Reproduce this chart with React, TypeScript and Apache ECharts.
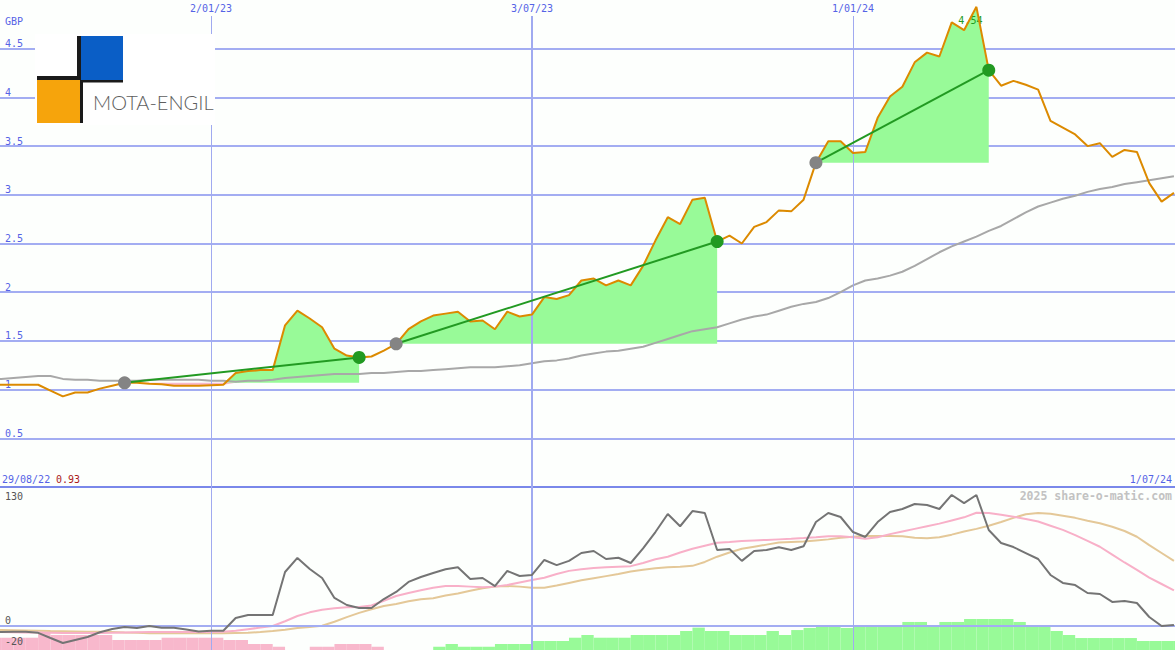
import React, { useEffect, useRef } from "react";
import * as echarts from "echarts";

// ---------- data ----------
const startDate = "2022-08-29"; // first weekly observation
const priceGBP = [
  1.05, 1.05, 1.05, 1.05, 1.05, 0.99, 0.93, 0.97, 0.97, 1.01,
  1.04, 1.07, 1.07, 1.06, 1.055, 1.04, 1.04, 1.04, 1.045, 1.05,
  1.17, 1.19, 1.2, 1.2, 1.66, 1.81, 1.73, 1.64, 1.42, 1.35,
  1.33, 1.34, 1.4, 1.47, 1.62, 1.7, 1.76, 1.78, 1.8, 1.7,
  1.71, 1.62, 1.8, 1.75, 1.77, 1.95, 1.93, 1.97, 2.12, 2.14,
  2.07, 2.12, 2.07, 2.27, 2.53, 2.77, 2.7, 2.95, 2.97, 2.52,
  2.58, 2.5, 2.67, 2.72, 2.84, 2.83, 2.95, 3.33, 3.55, 3.55,
  3.43, 3.44, 3.79, 4.01, 4.11, 4.36, 4.46, 4.42, 4.77, 4.69,
  4.93, 4.28, 4.12, 4.17, 4.13, 4.08, 3.76, 3.69, 3.62, 3.5,
  3.53, 3.39, 3.46, 3.44, 3.12, 2.93, 3.02,
];
const movingAverage = [
  1.11, 1.11, 1.12, 1.13, 1.14, 1.14, 1.11, 1.1, 1.1, 1.09,
  1.09, 1.09, 1.09, 1.1, 1.1, 1.1, 1.1, 1.1, 1.09, 1.09,
  1.08, 1.09, 1.09, 1.1, 1.12, 1.13, 1.14, 1.15, 1.16, 1.16,
  1.16, 1.17, 1.17, 1.18, 1.19, 1.19, 1.2, 1.21, 1.22, 1.23,
  1.23, 1.23, 1.24, 1.25, 1.27, 1.29, 1.3, 1.32, 1.35, 1.37,
  1.39, 1.4, 1.42, 1.44, 1.48, 1.52, 1.56, 1.6, 1.62, 1.64,
  1.68, 1.72, 1.75, 1.77, 1.81, 1.85, 1.88, 1.9, 1.94, 2.0,
  2.07, 2.12, 2.14, 2.17, 2.21, 2.27, 2.34, 2.41, 2.47, 2.52,
  2.57, 2.63, 2.68, 2.75, 2.82, 2.88, 2.92, 2.96, 2.99, 3.03,
  3.06, 3.08, 3.11, 3.13, 3.15, 3.17, 3.19,
];
const oscillator = [
  -5.7, -5.7, -5.4, -5.4, -6.5, -11.4, -16.2, -13.3, -10.5, -5.9,
  -2.9, -1, -1.9, 0, -1.6, -1.6, -3.3, -5.2, -4.5, -4.5,
  7.6, 10.5, 10.5, 10.5, 51.4, 64.8, 54.3, 45.7, 26.7, 20,
  17.1, 17.1, 25.7, 32.4, 42, 46.7, 50.5, 54, 56, 44.8,
  45.7, 38, 52.4, 47.6, 48.6, 62.9, 58, 62, 69.5, 71.4,
  63.8, 65, 60, 74, 89.5, 106.7, 95, 109.5, 107.6, 72.4,
  73.3, 62, 71.4, 72.4, 75, 72.4, 76, 99, 107.6, 103.8,
  89.5, 84.8, 99, 108.6, 111.4, 116.2, 115.2, 111.4, 124.8, 117,
  124.8, 91.4, 79, 75.2, 69.5, 63.8, 48.6, 41, 39, 31.4,
  30.5, 22.9, 23.8, 21.9, 8.6, 0, 1,
];
const oscFastAvg = [
  -5.7, -5.7, -5.9, -6.1, -6.3, -6.5, -6.7, -6.7, -6.7, -6.7,
  -6.5, -6.2, -6, -5.8, -5.7, -5.7, -5.7, -5.7, -5.7, -5.4,
  -4.5, -3, -1.5, 0, 4.5, 9.5, 13, 15.5, 17, 17.8,
  18.2, 19.5, 24, 28.6, 31.5, 34, 36.5, 38, 38, 37.5,
  37, 37.5, 39, 41.5, 43.8, 46, 49.5, 52.5, 54, 55.3,
  56, 56.5, 57, 60, 63.5, 66, 70, 73.5, 76.5, 79.3,
  80, 81, 81.5, 82, 82.5, 83, 83.7, 84.5, 85.5, 85.5,
  84.5, 83, 84.5, 87.5, 90, 92.5, 95, 97.5, 100.5, 103.5,
  107.9, 107.6, 106, 104, 102, 99.5, 95.5, 91.5, 86.5, 81,
  75.5, 68, 60.5, 53.5, 46, 40, 34,
];
const oscSlowAvg = [
  -3.8, -3.8, -4, -4.2, -4.5, -4.8, -5, -5.2, -5.4, -5.5,
  -5.8, -6.2, -6.5, -6.8, -7, -7, -7, -7, -7, -6.8,
  -6.6, -6.5, -5.8, -4.8, -3.5, -2, -1, 0.3, 4, 8.5,
  12.5, 16, 19, 21, 23.5, 25.5, 26.5, 29, 31, 33.5,
  36, 37.5, 38.1, 37.5, 36.5, 36.5, 38.5, 41, 43.5, 45.5,
  47.5, 49.5, 52, 53.5, 55, 56, 56.5, 57.3, 61, 66,
  70, 73.5, 75.5, 77.5, 79.5, 80, 80.5, 81.5, 82.5, 84,
  85, 85.7, 85.7, 85.7, 85.5, 84, 83.5, 84.5, 87, 90,
  92.5, 95.5, 99, 103, 106.5, 107.7, 107, 105, 103, 100.3,
  97.8, 94.5, 90.5, 85, 77, 69.5, 62,
];
const histogram = [
  -11.7, -11.7, -11.7, -11.7, -17.1, -14.3, -14.3, -14.3, -14.3, -14.3,
  -9.5, -9.5, -9.5, -9.5, -11.7, -11.7, -11.7, -11.7, -11.7, -9.5,
  -9.5, -5.7, -5.7, -3.1, 0, 0, -3.1, -3.1, -5.7, -5.7,
  -5.7, -3.1, 0, 0, 0, 0, 3.1, 5.7, 3.1, 3.1,
  3.1, 5.7, 5.7, 5.7, 8.6, 8.6, 8.6, 11.7, 14.3, 11.7,
  11.7, 11.7, 14.3, 14.3, 14.3, 14.3, 18.1, 21.3, 18.1, 18.1,
  14.3, 14.3, 14.3, 18.1, 14.3, 19, 21, 23.8, 23.8, 21,
  23.8, 23.8, 23.8, 23.8, 26.7, 26.7, 23.8, 26.7, 26.7, 29.5,
  29.5, 29.5, 29.5, 26.7, 23.8, 23.8, 18.1, 14.3, 11.4, 11.4,
  11.4, 11.4, 11.4, 8.6, 8.6, 8.6, 8.6,
];
// trend periods: [start week index, end week index]
const trendSegments = [
  [11, 30],
  [33, 59],
  [67, 81],
];
const dateTickValues = ["2023-01-02", "2023-07-03", "2024-01-01"];
const dateTickLabels = ["2/01/23", "3/07/23", "1/01/24"];
const oscTickValues = [-20, 0];
const oscTopLabel = "130";
const currencyLabel = "GBP";
const rangeStartLabel = "29/08/22";
const rangeMinLabel = "0.93";
const rangeEndLabel = "1/07/24";
const peakLabel = "4.54";
const watermark = "2025 share-o-matic.com";
const companyName = "MOTA-ENGIL";

// ---------- styling / layout ----------
const DAY = 86400000;
const MONO = '"DejaVu Sans Mono", monospace';
const BLUE_TEXT = "#5563e6";
const GRID_LINE = "#a3adf2";
const VLINE = "#a0aaf0";
const ORANGE = "#dc8a00";
const GREEN_FILL = "#98fa98";
const PINK_FILL = "#f8b8cc";
const TREND_GREEN = "#229a22";

export default function App() {
  const ref = useRef<HTMLDivElement>(null);

  useEffect(() => {
    if (!ref.current) return;
    const chart = echarts.init(ref.current, null, { renderer: "svg" });

    // x axis in days since the first observation
    const t0 = Date.parse(startDate + "T00:00:00Z");
    const weekDays = priceGBP.map((_, i) => i * 7);
    const xMin = 6.37;
    const xMax = 672.6;
    const tickDays = dateTickValues.map((d) => (Date.parse(d + "T00:00:00Z") - t0) / DAY);
    const labelFor = (v: number) => {
      let best = 0;
      tickDays.forEach((t, i) => {
        if (Math.abs(t - v) < Math.abs(tickDays[best] - v)) best = i;
      });
      return dateTickLabels[best];
    };

    const oscMin = (626 - 650) / 1.05;
    const oscMax = (626 - 487) / 1.05;
    const histMax = 163 / 1.05;
    const vlineTop = (487 - 16) / 97.4;

    const pair = (arr: number[]) => arr.map((v, i) => [weekDays[i], v]);

    const fillSeries: any[] = [];
    const trendSeries: any[] = [];
    trendSegments.forEach(([s, e], k) => {
      const base = priceGBP[s];
      const idx = [] as number[];
      for (let i = s; i <= e; i++) idx.push(i);
      fillSeries.push({
        type: "line",
        name: "gain" + k,
        xAxisIndex: 0,
        yAxisIndex: 0,
        data: idx.map((i) => [weekDays[i], Math.max(priceGBP[i], base)]),
        symbol: "none",
        lineStyle: { width: 0, opacity: 0 },
        areaStyle: { origin: base, color: GREEN_FILL, opacity: 1 },
        silent: true,
        z: 2,
      });
      fillSeries.push({
        type: "line",
        name: "loss" + k,
        xAxisIndex: 0,
        yAxisIndex: 0,
        data: idx.map((i) => [weekDays[i], Math.min(priceGBP[i], base)]),
        symbol: "none",
        lineStyle: { width: 0, opacity: 0 },
        areaStyle: { origin: base, color: PINK_FILL, opacity: 1 },
        silent: true,
        z: 2,
      });
      trendSeries.push({
        type: "line",
        name: "trend" + k,
        xAxisIndex: 0,
        yAxisIndex: 0,
        data: [
          { value: [weekDays[s], priceGBP[s]], itemStyle: { color: "#848484" } },
          { value: [weekDays[e], priceGBP[e]], itemStyle: { color: TREND_GREEN } },
        ],
        symbol: "circle",
        symbolSize: 13,
        showSymbol: true,
        lineStyle: { color: TREND_GREEN, width: 2 },
        silent: true,
        z: 6,
      });
    });

    const vlineWidths = [1, 2, 1];

    const option: any = {
      animation: false,
      backgroundColor: "#fdfffd",
      grid: [
        { left: 0, right: 0, top: 0, height: 487 },
        { left: 0, right: 0, top: 487, height: 163 },
      ],
      xAxis: [
        {
          type: "value",
          gridIndex: 0,
          min: xMin,
          max: xMax,
          position: "top",
          axisLine: { show: false },
          axisTick: { show: false },
          splitLine: { show: false },
          axisLabel: {
            inside: true,
            margin: 3,
            customValues: tickDays,
            formatter: (v: number) => labelFor(v),
            color: BLUE_TEXT,
            fontFamily: MONO,
            fontSize: 10,
          },
        },
        {
          type: "value",
          gridIndex: 1,
          min: xMin,
          max: xMax,
          position: "top",
          axisLine: { show: true, onZero: false, lineStyle: { color: "#7a88ea", width: 2 } },
          axisTick: { show: false },
          axisLabel: { show: false },
          splitLine: { show: false },
        },
      ],
      yAxis: [
        {
          type: "value",
          gridIndex: 0,
          min: 0,
          max: 5,
          interval: 0.5,
          axisLine: { show: false },
          axisTick: { show: false },
          splitLine: {
            show: true,
            showMinLine: false,
            showMaxLine: false,
            lineStyle: { color: GRID_LINE, width: 2 },
          },
          axisLabel: {
            inside: true,
            margin: 5,
            verticalAlign: "bottom",
            color: BLUE_TEXT,
            fontFamily: MONO,
            fontSize: 10,
            showMinLabel: false,
            showMaxLabel: false,
          },
        },
        {
          type: "value",
          gridIndex: 1,
          min: oscMin,
          max: oscMax,
          axisLine: { show: false },
          axisTick: { show: false },
          splitLine: { show: false },
          axisLabel: { show: false },
        },
        { type: "value", gridIndex: 1, min: 0, max: histMax, show: false },
      ],
      series: [
        ...fillSeries,
        {
          type: "line",
          name: "vlines-top",
          xAxisIndex: 0,
          yAxisIndex: 0,
          data: [],
          z: 3,
          silent: true,
          markLine: {
            silent: true,
            symbol: ["none", "none"],
            label: { show: false },
            data: tickDays.map((t, i) => [
              { coord: [t, vlineTop], lineStyle: { color: VLINE, width: vlineWidths[i], type: "solid" } },
              { coord: [t, 0] },
            ]),
          },
        },
        {
          type: "line",
          name: "MA",
          xAxisIndex: 0,
          yAxisIndex: 0,
          data: pair(movingAverage),
          symbol: "none",
          lineStyle: { color: "#a8a8a8", width: 2 },
          silent: true,
          z: 4,
        },
        {
          type: "line",
          name: "price",
          xAxisIndex: 0,
          yAxisIndex: 0,
          data: pair(priceGBP),
          symbol: "none",
          lineStyle: { color: ORANGE, width: 2 },
          silent: true,
          z: 5,
          markPoint: {
            silent: true,
            symbol: "circle",
            symbolSize: 0,
            data: [
              {
                type: "max",
                label: {
                  show: true,
                  formatter: peakLabel,
                  offset: [-6, 14],
                  color: TREND_GREEN,
                  fontFamily: MONO,
                  fontSize: 10,
                },
              },
            ],
          },
        },
        ...trendSeries,
        // lower panel
        {
          type: "line",
          name: "zero-line",
          xAxisIndex: 1,
          yAxisIndex: 1,
          data: [],
          z: 1,
          silent: true,
          markLine: {
            silent: true,
            symbol: ["none", "none"],
            label: { show: false },
            lineStyle: { color: GRID_LINE, width: 2, type: "solid" },
            data: [{ yAxis: 0 }],
          },
        },
        {
          type: "custom",
          name: "histogram",
          xAxisIndex: 1,
          yAxisIndex: 2,
          clip: true,
          silent: true,
          z: 2,
          data: pair(histogram),
          encode: { x: 0, y: 1 },
          renderItem: (params: any, api: any) => {
            const t = api.value(0);
            const v = api.value(1);
            if (!v) return null;
            const p0 = api.coord([t, Math.abs(v)]);
            const p1 = api.coord([t + 7, 0]);
            return {
              type: "rect",
              shape: { x: p0[0], y: p0[1], width: p1[0] - p0[0], height: p1[1] - p0[1] },
              style: { fill: v < 0 ? PINK_FILL : GREEN_FILL },
            };
          },
        },
        {
          type: "line",
          name: "vlines-bottom",
          xAxisIndex: 1,
          yAxisIndex: 1,
          data: [],
          z: 3,
          silent: true,
          markLine: {
            silent: true,
            symbol: ["none", "none"],
            label: { show: false },
            data: tickDays.map((t, i) => [
              { coord: [t, oscMax], lineStyle: { color: VLINE, width: vlineWidths[i], type: "solid" } },
              { coord: [t, oscMin] },
            ]),
          },
        },
        {
          type: "line",
          name: "slow",
          xAxisIndex: 1,
          yAxisIndex: 1,
          data: pair(oscSlowAvg),
          symbol: "none",
          lineStyle: { color: "#e4c898", width: 2 },
          silent: true,
          z: 4,
        },
        {
          type: "line",
          name: "fast",
          xAxisIndex: 1,
          yAxisIndex: 1,
          data: pair(oscFastAvg),
          symbol: "none",
          lineStyle: { color: "#f8b0c8", width: 2 },
          silent: true,
          z: 4,
        },
        {
          type: "line",
          name: "osc",
          xAxisIndex: 1,
          yAxisIndex: 1,
          data: pair(oscillator),
          symbol: "none",
          lineStyle: { color: "#747474", width: 2 },
          silent: true,
          z: 5,
        },
        {
          type: "line",
          name: "osc-tick-labels",
          xAxisIndex: 1,
          yAxisIndex: 1,
          data: [],
          z: 8,
          silent: true,
          markLine: {
            silent: true,
            symbol: ["none", "none"],
            lineStyle: { color: "rgba(0,0,0,0)", width: 0 },
            data: oscTickValues.map((v) => ({
              yAxis: v,
              label: {
                show: true,
                position: "insideStartTop",
                formatter: String(v),
                color: "#555555",
                fontFamily: MONO,
                fontSize: 10,
                distance: [5, 1],
              },
            })),
          },
        },
      ],
      graphic: [
        {
          type: "text",
          x: 5,
          y: 21,
          z: 100,
          style: { text: currencyLabel, fill: BLUE_TEXT, font: `10px ${MONO}`, verticalAlign: "middle" },
        },
        {
          type: "text",
          x: 2,
          y: 479,
          z: 100,
          style: { text: rangeStartLabel, fill: BLUE_TEXT, font: `10px ${MONO}`, verticalAlign: "middle" },
        },
        {
          type: "text",
          x: 56,
          y: 479,
          z: 100,
          style: { text: rangeMinLabel, fill: "#aa1a1a", font: `10px ${MONO}`, verticalAlign: "middle" },
        },
        {
          type: "text",
          x: 1172,
          y: 479,
          z: 100,
          style: { text: rangeEndLabel, fill: BLUE_TEXT, font: `10px ${MONO}`, align: "right", verticalAlign: "middle" },
        },
        {
          type: "text",
          x: 1172,
          y: 496,
          z: 100,
          style: { text: watermark, fill: "#c2c2c2", font: `bold 11.5px ${MONO}`, align: "right", verticalAlign: "middle" },
        },
        {
          type: "text",
          x: 5,
          y: 496,
          z: 100,
          style: { text: oscTopLabel, fill: "#555555", font: `10px ${MONO}`, verticalAlign: "middle" },
        },
        {
          type: "group",
          z: 100,
          children: [
            { type: "rect", z: 100, shape: { x: 35, y: 34, width: 180, height: 91 }, style: { fill: "#ffffff" } },
            { type: "rect", z: 101, shape: { x: 81, y: 36, width: 42, height: 44 }, style: { fill: "#0a5ec6" } },
            { type: "rect", z: 101, shape: { x: 37, y: 80, width: 43, height: 43 }, style: { fill: "#f6a40c" } },
            { type: "rect", z: 102, shape: { x: 77, y: 36, width: 4, height: 44 }, style: { fill: "#1a1a1a" } },
            { type: "rect", z: 102, shape: { x: 37, y: 76, width: 44, height: 4 }, style: { fill: "#1a1a1a" } },
            { type: "rect", z: 102, shape: { x: 80, y: 80, width: 43, height: 2.5 }, style: { fill: "#1a1a1a" } },
            { type: "rect", z: 102, shape: { x: 80, y: 80, width: 3, height: 43 }, style: { fill: "#1a1a1a" } },
            {
              type: "text",
              z: 102,
              x: 93,
              y: 102,
              style: {
                text: companyName,
                fill: "#5e5e5e",
                font: '300 20px Lato, "Open Sans", sans-serif',
                verticalAlign: "middle",
              },
            },
          ],
        },
      ],
    };

    chart.setOption(option);
    return () => chart.dispose();
  }, []);

  return (
    <div
      ref={ref}
      style={{ position: "absolute", left: 0, top: 0, width: 1175, height: 650 }}
    />
  );
}
